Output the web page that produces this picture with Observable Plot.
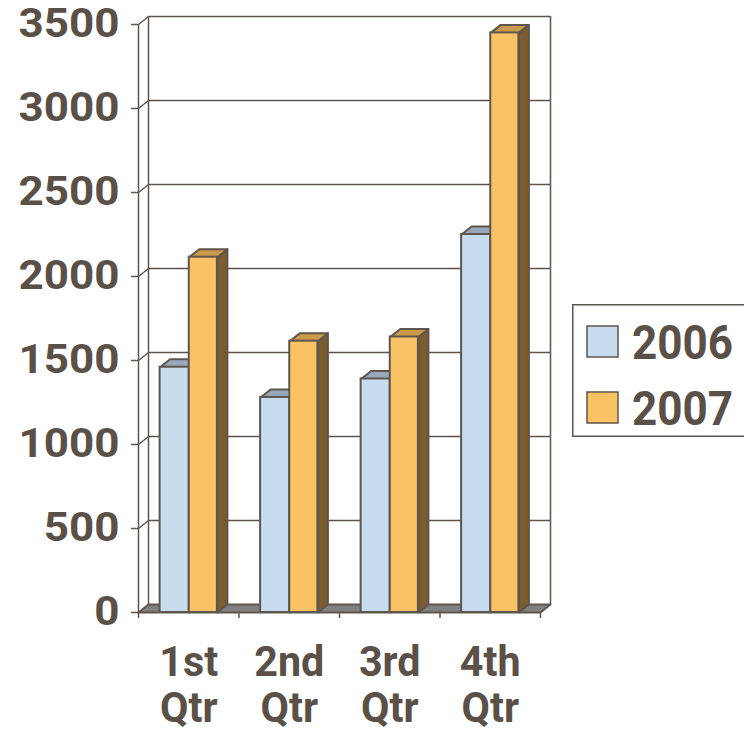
<!DOCTYPE html>
<html>
<head>
<meta charset="utf-8">
<script src="https://cdn.jsdelivr.net/npm/d3@7"></script>
<script src="https://cdn.jsdelivr.net/npm/@observablehq/plot@0.6"></script>
<style>
  body { margin: 0; background: #fff; }
  #chart { position: relative; width: 744px; height: 740px; overflow: hidden; background: #fff; }
  #legend { position: absolute; left: 572px; top: 304px; }
</style>
</head>
<body>
<div id="chart"></div>
<script>
// Quarterly totals, two years
const quarters = ["1st Qtr", "2nd Qtr", "3rd Qtr", "4th Qtr"];
const seriesNames = ["2006", "2007"];
const values2006 = [1460, 1280, 1390, 2250];
const values2007 = [2115, 1615, 1640, 3450];
const yTicks = [0, 500, 1000, 1500, 2000, 2500, 3000, 3500];

// Palette: front face, top face, side face
const ink = "#5e564e";
const textColor = "#5a5047";
const blue = { front: "#c8dcf0", top: "#97a9bb", side: "#6d7f91" };
const orange = { front: "#f9c264", top: "#cb9a4b", side: "#7a5c2f" };
const floorColor = "#808080";

// Layout
const W = 744, H = 740;
const margin = { left: 138, right: 204, top: 24, bottom: 128 };
const yMax = 3500;
const pxPerValue = (H - margin.top - margin.bottom) / yMax;
const pxPerSlot = (W - margin.left - margin.right) / quarters.length;
// Oblique depth of the 3D box, expressed in data units
const DX = 10 / pxPerSlot;
const DV = 8 / pxPerValue;
const tickLen = 6 / pxPerValue;
// Bar extents inside each quarter slot
const barSpan = { "2006": [0.215, 0.505], "2007": [0.505, 0.785] };

const bars = [];
quarters.forEach((q, i) => {
  [values2006[i], values2007[i]].forEach((v, s) => {
    const name = seriesNames[s];
    bars.push({ q, i, series: name, value: v, x1: i + barSpan[name][0], x2: i + barSpan[name][1] });
  });
});

function topFace(b) {
  return [[b.x1, b.value], [b.x2, b.value], [b.x2 + DX, b.value + DV], [b.x1 + DX, b.value + DV], [b.x1, b.value]]
    .map(([x, y]) => ({ x, y, id: b.q + b.series }));
}
function sideFace(b) {
  return [[b.x2, 0], [b.x2 + DX, DV], [b.x2 + DX, b.value + DV], [b.x2, b.value], [b.x2, 0]]
    .map(([x, y]) => ({ x, y, id: b.q + b.series }));
}
const n = quarters.length;
const floor = [[0, 0], [n, 0], [n + DX, DV], [DX, DV], [0, 0]].map(([x, y]) => ({ x, y, id: "floor" }));

const poly = (data, fill) => Plot.line(data, {
  x: "x", y: "y", z: "id", fill, stroke: ink, strokeWidth: 2, strokeLinejoin: "round", curve: "linear"
});

const bySeries = (name) => bars.filter(b => b.series === name);

const lineStyle = { stroke: ink, strokeWidth: 1.5 };

const plot = Plot.plot({
  width: W,
  height: H,
  marginLeft: margin.left,
  marginRight: margin.right,
  marginTop: margin.top,
  marginBottom: margin.bottom,
  style: { fontFamily: "Roboto, sans-serif", background: "#fff", color: textColor },
  x: { type: "linear", domain: [0, n], axis: null },
  y: { type: "linear", domain: [0, yMax], axis: null },
  marks: [
    // floor
    poly(floor, floorColor),
    // back wall with gridlines
    Plot.ruleY(yTicks.filter(v => v > 0), { y: v => v + DV, x1: DX, x2: n + DX, ...lineStyle }),
    Plot.ruleX([DX], { x: d => d, y1: DV, y2: yMax + DV, ...lineStyle }),
    Plot.ruleX([n + DX], { x: d => d, y1: DV, y2: yMax + DV, ...lineStyle }),
    // left wall: front edge and tick connectors
    Plot.ruleX([0], { x: d => d, y1: 0, y2: yMax, ...lineStyle }),
    Plot.link(yTicks.filter(v => v > 0), { x1: 0, y1: v => v, x2: DX, y2: v => v + DV, ...lineStyle }),
    // y axis
    Plot.axisY({
      ticks: yTicks, tickFormat: d => String(d), tickSize: 7, tickPadding: 12,
      fontSize: 41, fontWeight: "bold",
      stroke: ink, strokeWidth: 1.5, fill: textColor, label: null
    }),
    // x axis ticks below the floor edge
    Plot.ruleX(d3.range(n + 1), { x: d => d, y1: 0, y2: -tickLen, ...lineStyle }),
    // 2006 bars
    poly(bySeries("2006").flatMap(sideFace), blue.side),
    poly(bySeries("2006").flatMap(topFace), blue.top),
    Plot.rect(bySeries("2006"), { x1: "x1", x2: "x2", y1: 0, y2: "value", fill: blue.front, stroke: ink, strokeWidth: 2 }),
    // 2007 bars
    poly(bySeries("2007").flatMap(sideFace), orange.side),
    poly(bySeries("2007").flatMap(topFace), orange.top),
    Plot.rect(bySeries("2007"), { x1: "x1", x2: "x2", y1: 0, y2: "value", fill: orange.front, stroke: ink, strokeWidth: 2 }),
    // category labels
    Plot.text(quarters, {
      x: (d, i) => i + 0.5, y: () => 0, text: d => d.replace(" ", "\n"),
      lineAnchor: "top", dy: 31, lineHeight: 1.07,
      fontSize: 43, fontWeight: "bold", fill: textColor
    })
  ]
});

document.getElementById("chart").appendChild(plot);

// y tick labels: large, bold and a little wider than the face's natural width
d3.select(plot).selectAll("g[aria-label='y-axis tick label']")
  .style("font-size", "40px").style("font-weight", "bold");
d3.select(plot).selectAll("g[aria-label='y-axis tick label'] text").each(function () {
  const natural = this.getComputedTextLength();
  d3.select(this).attr("textLength", natural * 1.1).attr("lengthAdjust", "spacingAndGlyphs");
});
// narrow the category labels slightly
d3.select(plot).selectAll("g[aria-label='text'] tspan").each(function () {
  const natural = this.getComputedTextLength();
  d3.select(this).attr("textLength", natural * 0.96).attr("lengthAdjust", "spacingAndGlyphs");
});

// legend
const legendColors = { "2006": blue.front, "2007": orange.front };
const legend = d3.select("#chart").append("svg")
  .attr("id", "legend").attr("width", 180).attr("height", 134);
legend.append("rect").attr("x", 0.75).attr("y", 0.75).attr("width", 200).attr("height", 131.5)
  .attr("fill", "#fff").attr("stroke", ink).attr("stroke-width", 1.5);
seriesNames.forEach((name, k) => {
  const top = 22 + k * 66;
  legend.append("rect").attr("x", 15).attr("y", top).attr("width", 31).attr("height", 31)
    .attr("fill", legendColors[name]).attr("stroke", ink).attr("stroke-width", 1.5);
  legend.append("text").attr("x", 60).attr("y", top + 33)
    .attr("font-family", "Roboto, sans-serif").attr("font-weight", "bold").attr("font-size", 49)
    .attr("fill", textColor).attr("textLength", 101).attr("lengthAdjust", "spacingAndGlyphs")
    .text(name);
});
</script>
</body>
</html>
